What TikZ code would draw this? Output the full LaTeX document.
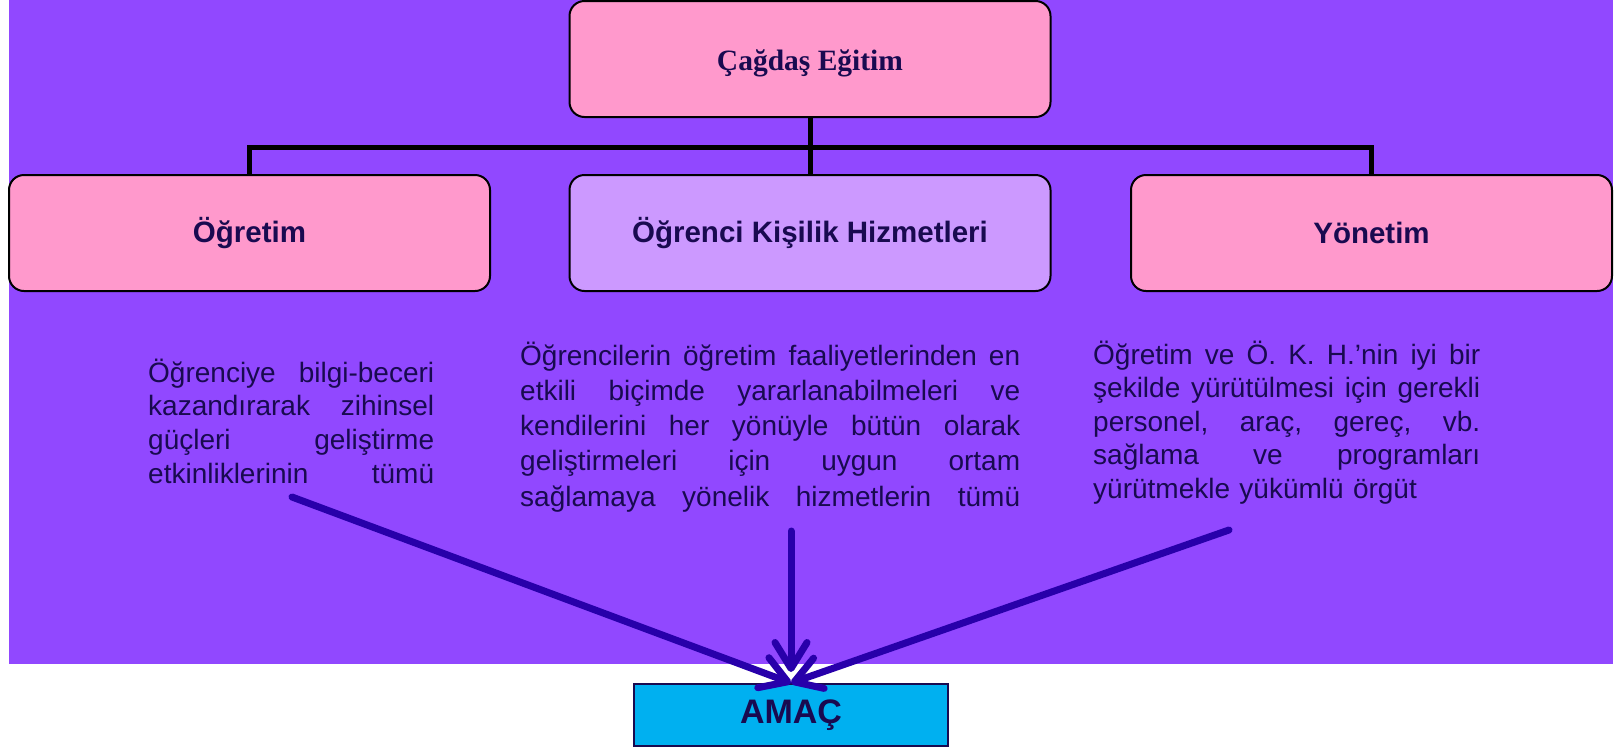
\documentclass[tikz,border=0pt]{standalone}
\usepackage{fontspec}
\setmainfont{Liberation Sans}
\newfontfamily\serifT{Liberation Serif}
\usetikzlibrary{arrows.meta}
\definecolor{bgp}{HTML}{9148FF}
\definecolor{pinkb}{HTML}{FF99CC}
\definecolor{lavb}{HTML}{CC99FF}
\definecolor{cyanb}{HTML}{00B0F0}
\definecolor{txt}{HTML}{190A50}
\definecolor{arrc}{HTML}{2800AA}
\newcommand\jrow[2]{\leavevmode\hbox to #1{#2}}
\begin{document}
\begin{tikzpicture}[x=1pt,y=-1pt,
  box/.style={draw=black, line width=2pt, rounded corners=15pt, minimum width=481pt, minimum height=116pt, inner sep=0pt, text=txt, font=\fontsize{29.5}{35}\selectfont\bfseries},
  conn/.style={line width=5pt, draw=black},
  arr/.style={line width=7pt, draw=arrc, line cap=round, -{Straight Barb[length=26pt,width=32pt,round]}},
  body/.style={anchor=base west, inner sep=0pt, text=txt, align=left}]
\useasboundingbox (0,0) rectangle (1620,748);
\fill[white] (0,0) rectangle (1620,748);
\fill[bgp] (9,0) rectangle (1613,664);

\node[box, fill=pinkb, font=\fontsize{29.5}{35}\selectfont\serifT\bfseries] (cag) at (810,59) {\raisebox{-4pt}[\height][\depth]{Çağdaş Eğitim}};
\node[box, fill=pinkb] (ogr) at (249.5,233) {Öğretim};
\node[box, fill=lavb] (okh) at (810,233) {Öğrenci Kişilik Hizmetleri};
\node[box, fill=pinkb] (yon) at (1371.5,233) {Yönetim};

\draw[conn] (cag.south) -- (okh.north);
\draw[conn] (ogr.north) -- ++(0,-27) -| (yon.north);

\node[body, text width=286pt, font=\fontsize{28}{33.7}\selectfont] (t1) at (148,382) {%
\jrow{286pt}{Öğrenciye\hfill bilgi-beceri}\\%
\jrow{286pt}{kazandırarak\hfill zihinsel}\\%
\jrow{286pt}{güçleri\hfill geliştirme}\\%
\jrow{286pt}{etkinliklerinin\hfill tümü}};

\node[body, text width=500pt, font=\fontsize{28}{35.3}\selectfont] (t2) at (520,365) {%
\jrow{500pt}{Öğrencilerin\hfill öğretim\hfill faaliyetlerinden\hfill en}\\%
\jrow{500pt}{etkili\hfill biçimde\hfill yararlanabilmeleri\hfill ve}\\%
\jrow{500pt}{kendilerini\hfill her\hfill yönüyle\hfill bütün\hfill olarak}\\%
\jrow{500pt}{geliştirmeleri\hfill için\hfill uygun\hfill ortam}\\%
\jrow{500pt}{sağlamaya\hfill yönelik\hfill hizmetlerin\hfill tümü}};

\node[body, text width=387pt, font=\fontsize{28}{33.5}\selectfont] (t3) at (1093,364) {%
\jrow{387pt}{Öğretim\hfill ve\hfill Ö.\hfill K.\hfill H.’nin\hfill iyi\hfill bir}\\%
\jrow{387pt}{şekilde\hfill yürütülmesi\hfill için\hfill gerekli}\\%
\jrow{387pt}{personel,\hfill araç,\hfill gereç,\hfill vb.}\\%
\jrow{387pt}{sağlama\hfill ve\hfill programları}\\%
yürütmekle yükümlü örgüt};

\node[draw=txt, line width=2pt, fill=cyanb, minimum width=314pt, minimum height=62pt, inner sep=0pt, text=txt, font=\fontsize{34}{40}\selectfont\bfseries] (amac) at (791,715) {AMAÇ};

\coordinate (s1) at (292,497);
\coordinate (s2) at (791,531);
\coordinate (s3) at (1229,530);
\draw[arr] (s1) -- (amac.north);
\draw[arr, shorten >=11pt] (s2) -- (amac.north);
\draw[arr] (s3) -- (amac.north);
\end{tikzpicture}
\end{document}
